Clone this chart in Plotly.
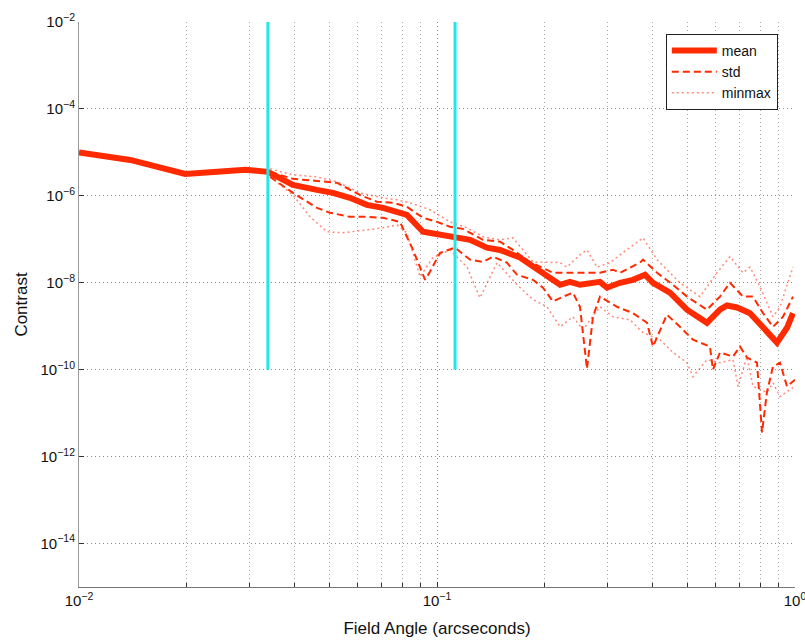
import plotly.graph_objects as go

# ---- data -------------------------------------------------------------
mean_x = [0.0100, 0.0139, 0.0198, 0.0232, 0.0292, 0.0337, 0.0396, 0.0462, 0.0512, 0.0571,
          0.0637, 0.0707, 0.0788, 0.0824, 0.0914, 0.1000, 0.1123, 0.1237, 0.1379, 0.1500,
          0.1705, 0.1940, 0.2207, 0.2352, 0.2508, 0.2852, 0.2985, 0.3245, 0.3527, 0.3811,
          0.4012, 0.4473, 0.4992, 0.5676, 0.6171, 0.6456, 0.6886, 0.7486, 0.8141, 0.8906,
          0.9499, 0.9872]
mean_y = [1.0e-5, 6.7e-6, 3.2e-6, 3.56e-6, 4.0e-6, 3.56e-6, 1.79e-6, 1.37e-6, 1.17e-6, 9.0e-7,
          6.2e-7, 5.3e-7, 4.3e-7, 3.66e-7, 1.49e-7, 1.34e-7, 1.14e-7, 9.7e-8, 6.4e-8, 5.7e-8,
          3.8e-8, 1.79e-8, 9.0e-9, 1.05e-8, 9.0e-9, 1.05e-8, 7.7e-9, 1.0e-8, 1.17e-8, 1.53e-8,
          1.0e-8, 5.9e-9, 2.4e-9, 1.2e-9, 2.4e-9, 3.0e-9, 2.7e-9, 2.0e-9, 9.7e-10, 4.2e-10,
          9.2e-10, 2.0e-9]

std_hi_x = [0.0342, 0.0396, 0.0462, 0.0526, 0.0609, 0.0680, 0.0754, 0.0824, 0.0914, 0.1000,
            0.1087, 0.1182, 0.1344, 0.1500, 0.1630, 0.1819, 0.2109, 0.2307, 0.2624, 0.2852,
            0.3102, 0.3245, 0.3690, 0.3762, 0.4117, 0.4560, 0.4992, 0.5676, 0.6171, 0.6581,
            0.7157, 0.7633, 0.8141, 0.8680, 0.9257, 0.9872]
std_hi_y = [3.56e-6, 2.46e-6, 2.21e-6, 1.99e-6, 1.05e-6, 7.3e-7, 6.9e-7, 5.6e-7, 3.12e-7, 2.52e-7,
            1.94e-7, 1.74e-7, 9.7e-8, 8.8e-8, 5.7e-8, 3.0e-8, 1.70e-8, 1.70e-8, 1.70e-8, 1.70e-8,
            2.0e-8, 1.70e-8, 2.9e-8, 3.4e-8, 1.70e-8, 9.0e-9, 4.8e-9, 2.4e-9, 4.8e-9, 1.0e-8,
            4.8e-9, 4.8e-9, 2.0e-9, 9.7e-10, 1.65e-9, 4.8e-9]

std_lo_x = [0.0342, 0.0396, 0.0462, 0.0502, 0.0571, 0.0637, 0.0707, 0.0788, 0.0857, 0.0926,
            0.0956, 0.1020, 0.1123, 0.1237, 0.1344, 0.1433, 0.1568, 0.1673, 0.1854, 0.1977,
            0.2109, 0.2249, 0.2398, 0.2508, 0.2624, 0.2727, 0.2852, 0.3043, 0.3183, 0.3527,
            0.3861, 0.4012, 0.4388, 0.4771, 0.5189, 0.5787, 0.5900, 0.6171, 0.6710, 0.7021,
            0.7343, 0.7832, 0.8088, 0.8352, 0.8680, 0.9080, 0.9499, 1.0000]
std_lo_y = [2.73e-6, 1.17e-6, 5.3e-7, 4.1e-7, 3.29e-7, 3.29e-7, 3.12e-7, 2.52e-7, 5.7e-8, 1.17e-8,
            1.79e-8, 4.9e-8, 6.4e-8, 3.4e-8, 3.0e-8, 4.0e-8, 2.9e-8, 1.53e-8, 1.17e-8, 7.7e-9,
            3.7e-9, 4.8e-9, 5.9e-9, 2.8e-9, 1.05e-10, 1.65e-9, 4.8e-9, 3.5e-9, 2.8e-9, 2.0e-9,
            1.2e-9, 3.4e-10, 1.84e-9, 9.7e-10, 4.9e-10, 3.4e-10, 1.0e-10, 2.5e-10, 2.0e-10, 3.4e-10,
            1.9e-10, 1.45e-10, 3.6e-12, 3.1e-11, 1.17e-10, 1.45e-10, 4.1e-11, 5.9e-11]

max_x = [0.0342, 0.0396, 0.0462, 0.0526, 0.0609, 0.0707, 0.0773, 0.0841, 0.0956, 0.1087,
         0.1213, 0.1344, 0.1500, 0.1630, 0.1854, 0.2207, 0.2307, 0.2508, 0.2624, 0.2798,
         0.3043, 0.3245, 0.3762, 0.4117, 0.4473, 0.4771, 0.5428, 0.6053, 0.6581, 0.7157,
         0.7486, 0.7985, 0.8680, 0.9080, 0.9872]
max_y = [4.18e-6, 3.04e-6, 2.73e-6, 2.10e-6, 1.17e-6, 9.0e-7, 8.1e-7, 6.9e-7, 4.8e-7, 2.52e-7,
         1.84e-7, 1.14e-7, 9.7e-8, 1.08e-7, 3.0e-8, 2.9e-8, 2.3e-8, 4.4e-8, 5.7e-8, 2.3e-8,
         2.9e-8, 4.4e-8, 1.08e-7, 3.4e-8, 1.70e-8, 1.0e-8, 4.8e-9, 1.70e-8, 4.0e-8, 1.70e-8,
         2.3e-8, 8.1e-9, 1.65e-9, 2.8e-9, 2.3e-8]

min_x = [0.0342, 0.0396, 0.0442, 0.0493, 0.0546, 0.0637, 0.0707, 0.0773, 0.0824, 0.0897,
         0.0974, 0.1087, 0.1213, 0.1318, 0.1471, 0.1673, 0.1854, 0.2029, 0.2207, 0.2398,
         0.2557, 0.2852, 0.3102, 0.3459, 0.3762, 0.4197, 0.4560, 0.4992, 0.5189, 0.5676,
         0.6171, 0.6710, 0.6933, 0.7343, 0.7633, 0.8352, 0.8680, 0.9080, 0.9872]
min_y = [2.73e-6, 1.05e-6, 3.29e-7, 1.49e-7, 1.41e-7, 1.65e-7, 1.84e-7, 2.15e-7, 1.41e-7, 1.37e-8,
         3.8e-8, 5.7e-8, 2.3e-8, 4.5e-9, 2.9e-8, 9.0e-9, 4.1e-9, 2.8e-9, 9.7e-10, 1.65e-9,
         8.3e-10, 2.8e-9, 1.65e-9, 1.41e-9, 7.1e-10, 4.9e-10, 2.5e-10, 1.45e-10, 6.9e-11, 1.7e-10,
         1.45e-10, 1.7e-10, 4.1e-11, 2.0e-10, 4.1e-11, 3.0e-11, 5.0e-11, 2.4e-11, 3.9e-11]

# working-region boundaries (arcsec) and the contrast span they are drawn over
region_edges = [0.0337, 0.1123]
region_span = [1e-10, 1e-2]

x_ticks = [0.01, 0.1, 1]
x_tick_text = ["10<sup>\u22122</sup>", "10<sup>\u22121</sup>", "10<sup>0</sup>"]
y_ticks = [1e-14, 1e-12, 1e-10, 1e-8, 1e-6, 1e-4, 1e-2]
y_tick_text = ["10<sup>\u221214</sup>", "10<sup>\u221212</sup>", "10<sup>\u221210</sup>",
               "10<sup>\u22128</sup>", "10<sup>\u22126</sup>", "10<sup>\u22124</sup>",
               "10<sup>\u22122</sup>"]
x_minor = [m * d for d in (0.01, 0.1) for m in range(2, 10)]

RED = "#ff2a00"
MINMAX = "rgba(255,60,30,0.6)"
CYAN = "#22e6ea"
FONT = "Liberation Sans, Arial, sans-serif"

fig = go.Figure()
fig.add_trace(go.Scatter(x=mean_x, y=mean_y, mode="lines", name="mean",
                         line=dict(color=RED, width=6)))
fig.add_trace(go.Scatter(x=std_hi_x, y=std_hi_y, mode="lines", name="std",
                         line=dict(color=RED, width=2, dash="7px,4px")))
fig.add_trace(go.Scatter(x=std_lo_x, y=std_lo_y, mode="lines", name="std", showlegend=False,
                         line=dict(color=RED, width=2, dash="7px,4px")))
fig.add_trace(go.Scatter(x=max_x, y=max_y, mode="lines", name="minmax",
                         line=dict(color=MINMAX, width=1.5, dash="2px,3px")))
fig.add_trace(go.Scatter(x=min_x, y=min_y, mode="lines", name="minmax", showlegend=False,
                         line=dict(color=MINMAX, width=1.5, dash="2px,3px")))
for xe in region_edges:
    fig.add_trace(go.Scatter(x=[xe, xe], y=region_span, mode="lines", showlegend=False,
                             line=dict(color=CYAN, width=3)))

fig.update_layout(
    width=805, height=640,
    margin=dict(l=79, r=10, t=22, b=53),
    paper_bgcolor="white", plot_bgcolor="white",
    font=dict(family=FONT, size=15, color="#111"),
    showlegend=True,
    legend=dict(x=0.976, xanchor="right", y=0.979, yanchor="top",
                bgcolor="white", bordercolor="#222", borderwidth=1,
                font=dict(size=14), tracegroupgap=0, itemwidth=45),
)
fig.update_xaxes(
    type="log", range=[-2, 0], automargin=False,
    tickvals=x_ticks, ticktext=x_tick_text, ticklabeloverflow="allow",
    ticks="inside", ticklen=5, tickcolor="#333",
    showline=True, linecolor="#777", linewidth=1, mirror=False,
    showgrid=True, gridcolor="#8a8a8a", griddash="1px,3px", gridwidth=1,
    minor=dict(tickvals=x_minor, ticks="inside", ticklen=4, tickcolor="#333",
               showgrid=True, gridcolor="#aaaaaa", griddash="1px,3px", gridwidth=1),
    title=dict(text="Field Angle (arcseconds)", font=dict(size=17), standoff=14),
    zeroline=False,
)
fig.update_yaxes(
    type="log", range=[-15, -2], automargin=False,
    tickvals=y_ticks, ticktext=y_tick_text, ticklabeloverflow="allow",
    ticks="inside", ticklen=5, tickcolor="#333",
    showline=True, linecolor="#999", linewidth=1, mirror=False,
    showgrid=True, gridcolor="#8a8a8a", griddash="1px,3px", gridwidth=1,
    title=dict(text="Contrast", font=dict(size=17), standoff=8),
    zeroline=False,
)

fig.write_html("out.html")
